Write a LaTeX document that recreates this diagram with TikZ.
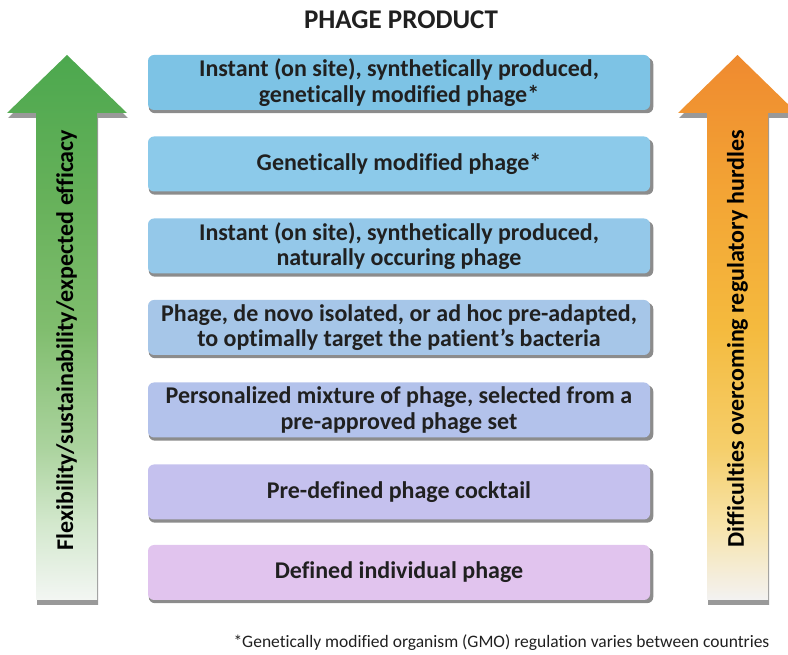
\documentclass[tikz,border=0pt]{standalone}
\usepackage{fontspec}
\setmainfont{Carlito}[Ligatures=NoCommon]
\usetikzlibrary{shadows}

% fills of the product boxes, top to bottom
\definecolor{boxA}{HTML}{7DC3E5}
\definecolor{boxB}{HTML}{8CCAEA}
\definecolor{boxC}{HTML}{94C8E9}
\definecolor{boxD}{HTML}{A6C6E8}
\definecolor{boxE}{HTML}{B3C2EB}
\definecolor{boxF}{HTML}{C5C1EE}
\definecolor{boxG}{HTML}{E1C4EE}
\definecolor{ink}{HTML}{202020}

% green arrow, bottom to top
\definecolor{gA}{HTML}{F3F6F3}
\definecolor{gB}{HTML}{D3E8CD}
\definecolor{gC}{HTML}{ABD39E}
\definecolor{gD}{HTML}{80BD6E}
\definecolor{gE}{HTML}{66B15A}
\definecolor{gF}{HTML}{4CA84E}
% orange arrow, bottom to top
\definecolor{oA}{HTML}{F3F2F2}
\definecolor{oB}{HTML}{F7E3A8}
\definecolor{oC}{HTML}{F5CE6A}
\definecolor{oD}{HTML}{F4BA3E}
\definecolor{oE}{HTML}{F3A535}
\definecolor{oF}{HTML}{EF8A2F}

\pgfdeclareverticalshading{greenrise}{100bp}{color(0bp)=(gA); color(25bp)=(gA); color(32bp)=(gB); color(39bp)=(gC); color(50bp)=(gD); color(62bp)=(gE); color(75bp)=(gF); color(100bp)=(gF)}
\pgfdeclareverticalshading{orangerise}{100bp}{color(0bp)=(oA); color(25bp)=(oA); color(32bp)=(oB); color(39bp)=(oC); color(50bp)=(oD); color(62bp)=(oE); color(75bp)=(oF); color(100bp)=(oF)}

\begin{document}
\begin{tikzpicture}[x=1pt, y=1pt,
    phasebox/.style={rounded corners=6pt, minimum width=502pt, minimum height=55pt,
      align=center, text=ink, font=\fontsize{24}{25.5}\selectfont\bfseries,
      drop shadow={shadow xshift=2pt, shadow yshift=-3pt, shadow scale=1.005, fill=black!45, opacity=1}},
    bigarrow/.style={drop shadow={shadow xshift=1pt, shadow yshift=-5pt, fill=black!40, opacity=1}},
    arrowtext/.style={rotate=90, font=\fontsize{24}{26}\selectfont\bfseries, text=black}]

    \useasboundingbox (0,0) rectangle (788,654);

    % title
    \node[font=\fontsize{27}{30}\selectfont\bfseries, text=ink] (title) at (401,634) {PHAGE PRODUCT};

    % left arrow
    \path[bigarrow, shading=greenrise]
      (36,54) -- (36,541) -- (7,541) -- (67,599) -- (127,541) -- (97,541) -- (97,54) -- cycle;
    \node[arrowtext] (flex) at (66.5,314) {Flexibility/sustainability/expected efficacy};

    % right arrow
    \path[bigarrow, shading=orangerise]
      (707,54) -- (707,541) -- (678,541) -- (737.5,599) -- (797,541) -- (768,541) -- (768,54) -- cycle;
    \node[arrowtext] (hurdle) at (737.5,315) {Difficulties overcoming regulatory hurdles};

    % product boxes
    \node[phasebox, fill=boxA] (gmsynth) at (399,571.5) {Instant (on site), synthetically produced,\\genetically modified phage*};
    \node[phasebox, fill=boxB] (gmphage) at (399,490) {Genetically modified phage*};
    \node[phasebox, fill=boxC] (natsynth) at (399,408) {Instant (on site), synthetically produced,\\naturally occuring phage};
    \node[phasebox, fill=boxD] (adhoc) at (399,326.5) {Phage, de novo isolated, or ad hoc pre-adapted,\\to optimally target the patient’s bacteria};
    \node[phasebox, fill=boxE] (personal) at (399,244) {Personalized mixture of phage, selected from a\\pre-approved phage set};
    \node[phasebox, fill=boxF] (cocktail) at (399,162) {Pre-defined phage cocktail};
    \node[phasebox, fill=boxG] (single) at (399,81.5) {Defined individual phage};

    % footnote
    \node[anchor=west, font=\fontsize{17.5}{20}\selectfont, text=ink] (gmo) at (230,11)
      {*Genetically modified organism (GMO) regulation varies between countries};
\end{tikzpicture}
\end{document}
